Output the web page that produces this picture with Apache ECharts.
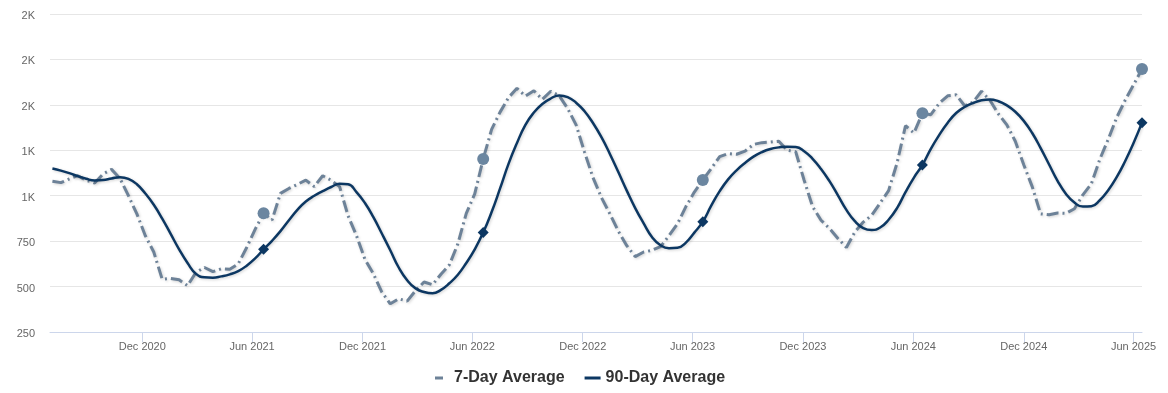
<!DOCTYPE html>
<html>
<head>
<meta charset="utf-8">
<script src="https://cdn.jsdelivr.net/npm/echarts@6/dist/echarts.min.js"></script>
<style>
html,body{margin:0;padding:0;background:#fff;}
#chart{width:1168px;height:393px;}
</style>
</head>
<body>
<div id="chart"></div>
<script>
// Biweekly observation dates (every 14 days from 2020-07-05 to 2025-06-15)
const startDate = '2020-07-05';
const stepDays = 14;
const axisStart = '2020-07-01';
const axisEnd = '2025-06-15';

// 7-Day Average values (one per biweekly date)
const avg7 = [
  1080,1072,1092,1110,1085,1070,1120,1145,1095,1000,
  900,780,690,540,545,537,505,578,605,582,
  598,595,625,715,815,903,866,1013,1040,1062,
  1086,1050,1110,1085,1050,890,780,650,570,470,
  405,433,420,478,525,510,568,620,735,903,
  1010,1202,1365,1460,1540,1591,1548,1578,1530,1575,
  1550,1480,1390,1240,1100,990,900,805,725,665,
  690,700,720,780,845,940,1020,1086,1150,1215,
  1232,1228,1245,1282,1292,1295,1300,1250,1242,1085,
  940,865,820,765,715,800,855,892,960,1028,
  1180,1385,1345,1454,1446,1509,1550,1555,1495,1515,
  1575,1525,1450,1390,1300,1170,1050,900,895,905,
  903,928,1005,1065,1200,1310,1430,1525,1610,1697
];

// 90-Day Average values (one per biweekly date)
const avg90 = [
  1150,1138,1124,1108,1093,1084,1086,1095,1102,1093,
  1063,1012,950,874,790,705,630,570,551,549,
  556,567,585,615,655,705,752,805,865,922,
  968,1000,1025,1048,1066,1063,1020,960,882,792,
  700,605,535,490,470,463,482,518,565,630,
  705,797,910,1040,1175,1290,1390,1458,1505,1535,
  1552,1543,1512,1465,1400,1322,1230,1130,1028,932,
  848,772,727,711,713,742,797,857,945,1025,
  1090,1140,1180,1215,1240,1257,1266,1270,1268,1245,
  1203,1147,1080,1002,922,860,822,811,825,868,
  932,1020,1100,1169,1258,1335,1402,1455,1488,1510,
  1525,1530,1520,1497,1462,1412,1345,1262,1172,1082,
  1010,962,940,942,975,1030,1102,1190,1290,1402
];

// Highlighted dates (same week each year)
const markerDates = ['2021-06-20','2022-06-19','2023-06-18','2024-06-16','2025-06-15'];

// X tick dates and labels
const xTickDates = ['2020-12-01','2021-06-01','2021-12-01','2022-06-01','2022-12-01','2023-06-01','2023-12-01','2024-06-01','2024-12-01','2025-06-01'];
const monthNames = ['Jan','Feb','Mar','Apr','May','Jun','Jul','Aug','Sep','Oct','Nov','Dec'];

// Y axis ticks
const yMin = 250, yMax = 2000, yStep = 250;

const seriesNames = ['7-Day Average', '90-Day Average'];

function ts(s){ const p = s.split('-').map(Number); return Date.UTC(p[0], p[1]-1, p[2]); }
const DAY = 86400000;
const dates = avg7.map((_, i) => ts(startDate) + i * stepDays * DAY);

const c7 = '#6d8298';
const c90 = '#0c3762';

const shadow = {shadowColor:'rgba(0,0,0,0.18)', shadowBlur:3, shadowOffsetX:1, shadowOffsetY:1};

const chart = echarts.init(document.getElementById('chart'), null, {renderer:'canvas'});
chart.setOption({
  animation: false,
  backgroundColor: '#ffffff',
  textStyle: {fontFamily: 'Liberation Sans, Arial, sans-serif'},
  grid: {left: 50, right: 26, top: 14, bottom: 61, containLabel: false},
  xAxis: {
    type: 'value',
    min: ts(axisStart),
    max: ts(axisEnd),
    axisLine: {show: true, lineStyle: {color: '#ccd6eb', width: 1}},
    axisTick: {show: true, length: 10, lineStyle: {color: '#ccd6eb'}, customValues: xTickDates.map(ts)},
    axisLabel: {
      color: '#666666', fontSize: 11, margin: 9,
      customValues: xTickDates.map(ts),
      formatter: function(v){ const d = new Date(v); return monthNames[d.getUTCMonth()] + ' ' + d.getUTCFullYear(); }
    },
    splitLine: {show: false}
  },
  yAxis: {
    type: 'value',
    min: yMin, max: yMax, interval: yStep,
    axisLine: {show: false},
    axisTick: {show: false},
    splitLine: {show: true, lineStyle: {color: '#e6e6e6', width: 1}},
    axisLabel: {
      color: '#666666', fontSize: 11, margin: 15, verticalAlign: 'top', lineHeight: 4,
      formatter: function(v){ return v >= 1000 ? Math.round(v/1000) + 'K' : String(v); }
    }
  },
  legend: {
    left: 428, top: 365,
    itemWidth: 16, itemHeight: 3, itemGap: 20,
    textStyle: {fontSize: 16, fontWeight: 'bold', color: '#333333', fontFamily: 'Liberation Sans, Arial, sans-serif'},
    data: [
      {name: seriesNames[0], icon: 'path://M0,0L0.01,0L0.01,0.01Z M2,0L10,0L10,3L2,3Z M15.99,2.99L16,2.99L16,3Z'},
      {name: seriesNames[1], icon: 'rect'}
    ]
  },
  series: [
    {
      name: seriesNames[0], type: 'line',
      data: dates.map((d, i) => [d, avg7[i]]),
      showSymbol: false, symbol: 'none',
      lineStyle: Object.assign({color: c7, width: 3, type: [12, 4, 2, 4], cap: 'butt'}, shadow),
      itemStyle: {color: c7},
      z: 2
    },
    {
      name: seriesNames[1], type: 'line',
      data: dates.map((d, i) => [d, avg90[i]]),
      smooth: 0.5,
      showSymbol: false, symbol: 'none',
      lineStyle: Object.assign({color: c90, width: 2.5}, shadow),
      itemStyle: {color: c90},
      z: 3
    },
    {
      type: 'scatter',
      data: markerDates.map(s => { const i = dates.indexOf(ts(s)); return [dates[i], avg7[i]]; }),
      symbol: 'circle', symbolSize: 12,
      itemStyle: {color: '#6b86a0', opacity: 1},
      z: 5, silent: true
    },
    {
      type: 'scatter',
      data: markerDates.map(s => { const i = dates.indexOf(ts(s)); return [dates[i], avg90[i]]; }),
      symbol: 'diamond', symbolSize: 11,
      itemStyle: {color: c90, opacity: 1},
      z: 6, silent: true
    }
  ]
});
</script>
</body>
</html>
